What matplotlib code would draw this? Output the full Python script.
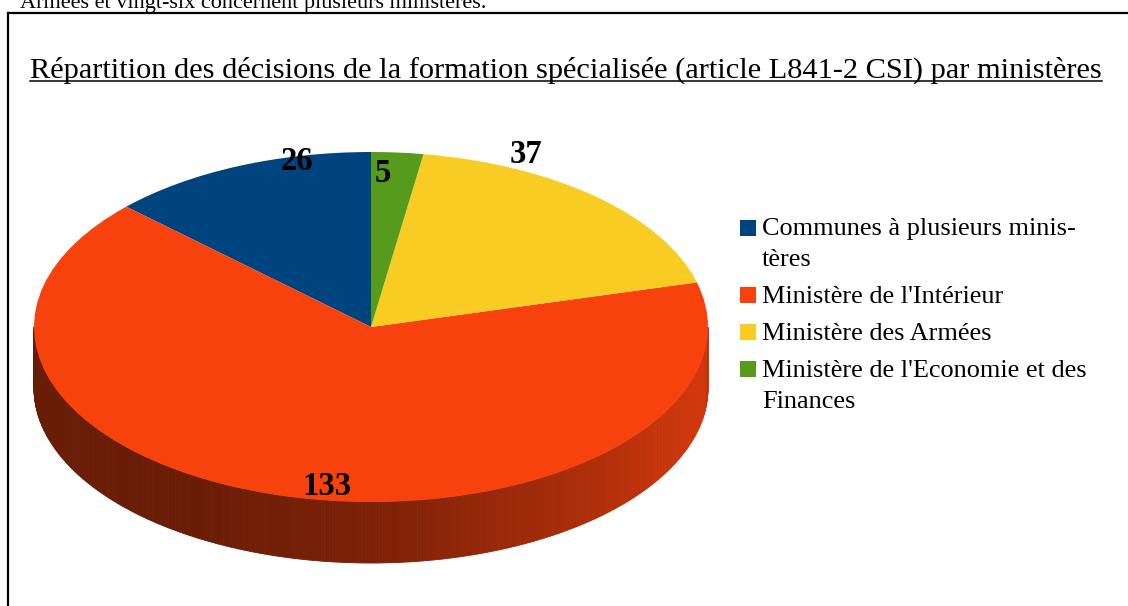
import numpy as np
import matplotlib
matplotlib.use("Agg")
import matplotlib.pyplot as plt
from matplotlib.collections import PolyCollection
from matplotlib.patches import Rectangle
from matplotlib.colors import to_rgb

# data
categories = ["Communes à plusieurs minis-\ntères", "Ministère de l'Intérieur",
              "Ministère des Armées", "Ministère de l'Economie et des\nFinances"]
values = [26, 133, 37, 5]
colors = ["#00447f", "#f8420e", "#f8cc22", "#569b1c"]
title = "Répartition des décisions de la formation spécialisée (article L841-2 CSI) par ministères"
top_text = "Armées et vingt-six concernent plusieurs ministères."

W, H = 1128, 606
plt.rcParams["font.family"] = ["Liberation Serif", "DejaVu Serif"]
fig = plt.figure(figsize=(W / 100, H / 100), dpi=100)

# pie axes: px per unit in x and y, centre of top face in px
rx, ry, cx, cy = 337, 175, 371, 327
xl, yl = (-1.1, 1.1), (-1.5, 1.1)
ax = fig.add_axes([(cx + xl[0] * rx) / W, (H - (cy - yl[0] * ry)) / H,
                   (xl[1] - xl[0]) * rx / W, (yl[1] - yl[0]) * ry / H])
wedges, _ = ax.pie(values, colors=colors, startangle=90, radius=1,
                   wedgeprops=dict(linewidth=0))
ax.set_aspect("auto")
ax.set_xlim(*xl)
ax.set_ylim(*yl)
ax.axis("off")

# side wall of the 3d pie (only the front half shows)
depth = 61 / ry
shade_t = [180, 240, 270, 300, 330, 350, 360]
shade_v = [0.42, 0.43, 0.50, 0.65, 0.80, 0.85, 0.78]
polys, fcs = [], []
for w, c in zip(wedges, colors):
    t1, t2 = w.theta1 % 360, w.theta2 % 360
    for t in np.arange(180, 360, 0.5):
        tm = t + 0.25
        inside = (t1 <= tm <= t2) if t1 < t2 else (tm >= t1 or tm <= t2)
        if not inside:
            continue
        a, b = np.radians(t), np.radians(t + 0.5)
        polys.append([(np.cos(a), np.sin(a)), (np.cos(b), np.sin(b)),
                      (np.cos(b), np.sin(b) - depth), (np.cos(a), np.sin(a) - depth)])
        s = np.interp(tm, shade_t, shade_v)
        fcs.append(tuple(np.array(to_rgb(c)) * s))
ax.add_collection(PolyCollection(polys, facecolors=fcs, edgecolors=fcs,
                                 linewidths=0.6, zorder=0))

# value labels
label_pos = [(-0.22, 0.943), (-0.13, -0.914), (0.46, 0.983), (0.035, 0.88)]
for v, (x, y) in zip(values, label_pos):
    ax.text(x, y, str(v), ha="center", va="center", fontsize=23.5, fontweight="bold")

# overlay in pixel coordinates for frame, title, legend
ov = fig.add_axes([0, 0, 1, 1], zorder=-1)
ov.set_xlim(0, W)
ov.set_ylim(H, 0)
ov.axis("off")
ov.plot([8, W + 5], [12.5, 12.5], color="black", lw=1.6, solid_capstyle="projecting")
ov.plot([8, 8], [12.5, H + 5], color="black", lw=1.6, solid_capstyle="projecting")
ov.text(20, 8, top_text, fontsize=16, va="baseline", ha="left")

t = ov.text(30, 77.5, title, fontsize=21.9, va="baseline", ha="left")
fig.canvas.draw()
bb = t.get_window_extent()
ov.plot([bb.x0, bb.x1], [80.5, 80.5], color="black", lw=1.1)

# legend
y = 227.5
for lab, c in zip(categories, colors):
    ov.add_patch(Rectangle((740, y - 8), 16, 16, facecolor=c, edgecolor="none"))
    for line in lab.split("\n"):
        ov.text(762, y + 8, line, fontsize=18.9, va="baseline", ha="left")
        y += 30.5
    y += 6.5

fig.savefig("out.png", dpi=100)
